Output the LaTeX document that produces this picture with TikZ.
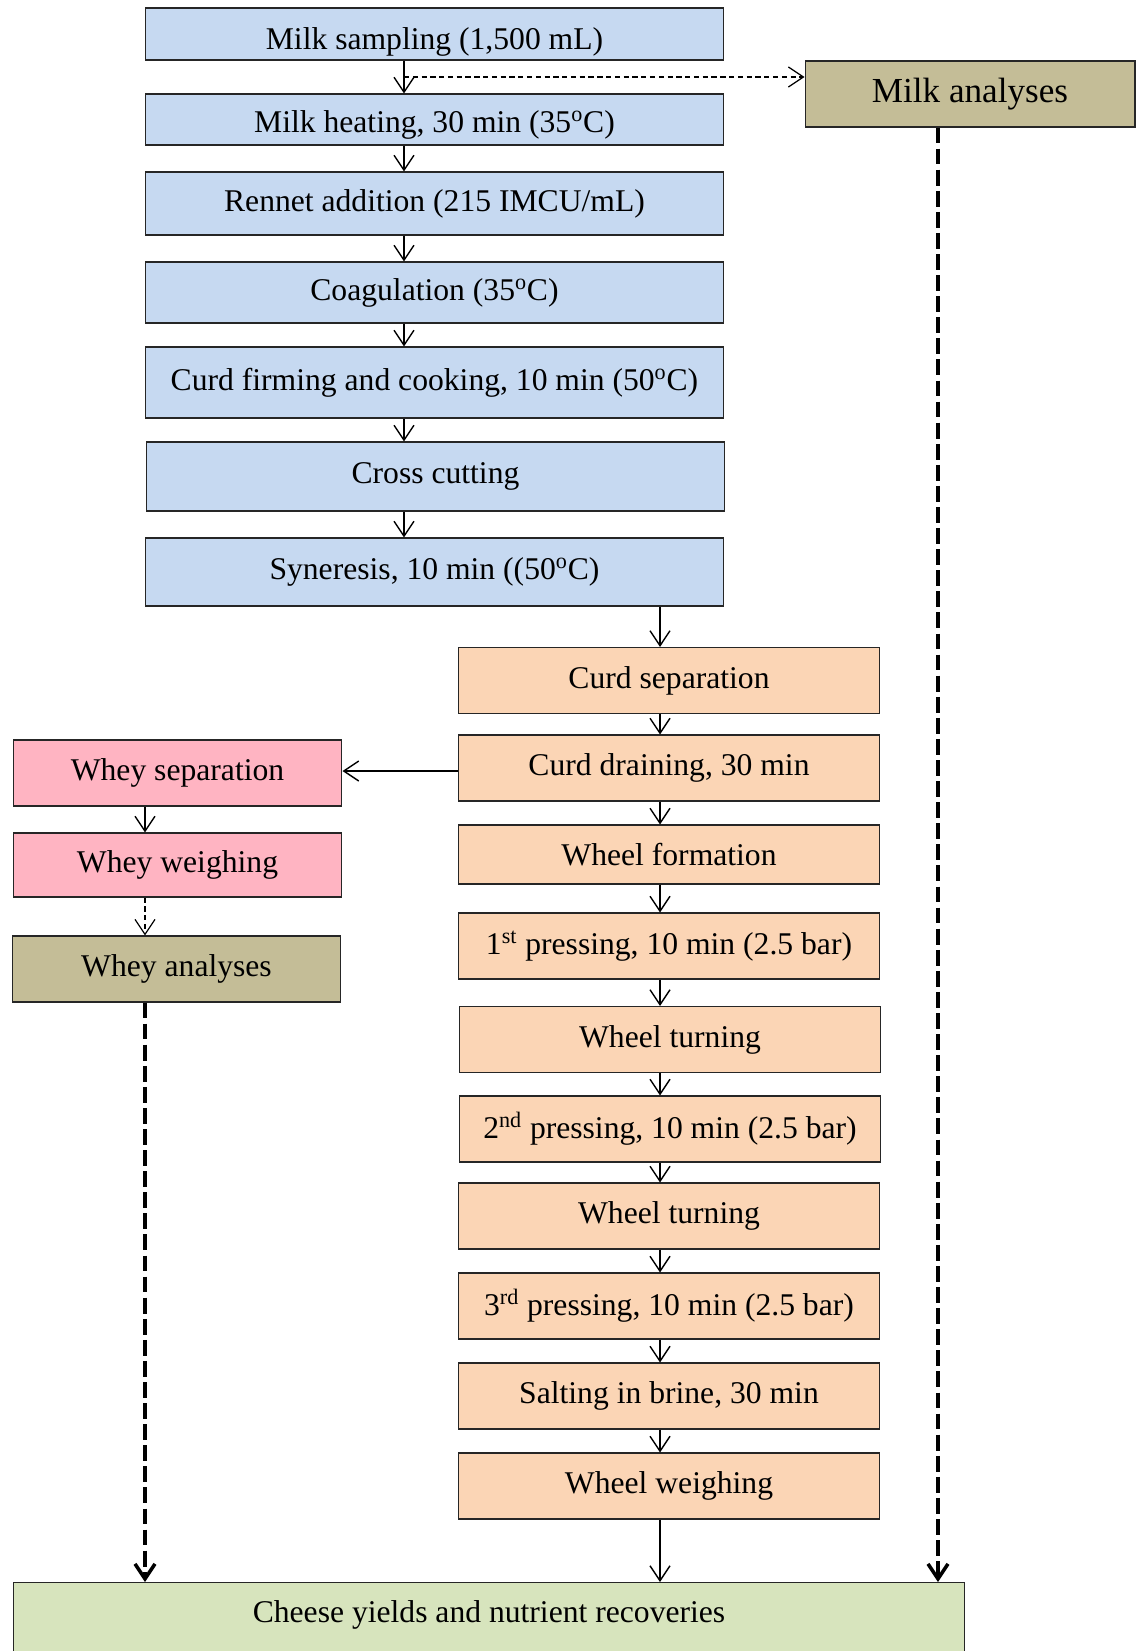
\documentclass[tikz,border=0pt]{standalone}
\usepackage{fontspec}
\setmainfont{Liberation Serif}
\usetikzlibrary{arrows.meta}

\definecolor{milkblue}{RGB}{198,217,241}
\definecolor{curdorange}{RGB}{251,213,181}
\definecolor{wheypink}{RGB}{255,180,194}
\definecolor{analysistan}{RGB}{196,189,151}
\definecolor{yieldgreen}{RGB}{215,228,189}

\begin{document}
\begin{tikzpicture}[y=-0.02cm, x=0.02cm, font=\fontsize{18}{21}\selectfont,
  box/.style={draw=black!85, line width=0.6pt, inner sep=2pt},
  bluebox/.style={box, fill=milkblue, minimum width=11.58cm},
  orangebox/.style={box, fill=curdorange, minimum width=8.44cm, minimum height=1.32cm},
  pinkbox/.style={box, fill=wheypink, minimum width=6.58cm, minimum height=1.32cm},
  tanbox/.style={box, fill=analysistan, minimum height=1.32cm},
  arr/.style={-{Straight Barb[length=0.3cm,width=0.4cm]}, line width=0.8pt},
  dasharr/.style={arr, dash pattern=on 3pt off 2pt, line width=0.7pt},
  thickdash/.style={arr, dash pattern=on 9pt off 3pt, line width=2pt}]

\useasboundingbox (0,0) rectangle (1142,1651);

% milk line
\node[bluebox, minimum height=1.04cm] (sampling) at (434.5,34)    {\raisebox{-0.15cm}[\height][\depth]{Milk sampling (1,500 mL)}};
\node[bluebox, minimum height=1.02cm] (heating)  at (434.5,119.5) {\raisebox{-0.1cm}[\height][\depth]{Milk heating, 30 min (35\textsuperscript{o}C)}};
\node[bluebox, minimum height=1.26cm] (rennet)   at (434.5,203.5) {Rennet addition (215 IMCU/mL)};
\node[bluebox, minimum height=1.22cm] (coag)     at (434.5,292.5) {Coagulation (35\textsuperscript{o}C)};
\node[bluebox, minimum height=1.42cm] (firming)  at (434.5,382.5) {Curd firming and cooking, 10 min (50\textsuperscript{o}C)};
\node[bluebox, minimum height=1.38cm] (cutting)  at (435.5,476.5) {Cross cutting};
\node[bluebox, minimum height=1.36cm] (syneresis) at (434.5,572)  {Syneresis, 10 min ((50\textsuperscript{o}C)};

\node[tanbox, minimum width=6.6cm, font=\fontsize{20}{24}\selectfont] (milkan) at (970,94) {Milk analyses};

% curd line
\node[orangebox] (curdsep)   at (669,680.5) {Curd separation};
\node[orangebox] (draining)  at (669,768)   {Curd draining, 30 min};
\node[orangebox, minimum height=1.18cm] (formation) at (669,854.5) {Wheel formation};
\node[orangebox] (press1)    at (669,946)   {1\textsuperscript{st} pressing, 10 min (2.5 bar)};
\node[orangebox] (turn1)     at (670,1039.5) {Wheel turning};
\node[orangebox] (press2)    at (670,1129)  {2\textsuperscript{nd} pressing, 10 min (2.5 bar)};
\node[orangebox] (turn2)     at (669,1216)  {Wheel turning};
\node[orangebox] (press3)    at (669,1306)  {3\textsuperscript{rd} pressing, 10 min (2.5 bar)};
\node[orangebox] (brine)     at (669,1396)  {Salting in brine, 30 min};
\node[orangebox] (weighing)  at (669,1486)  {Wheel weighing};

% whey line
\node[pinkbox] (wheysep)   at (177.5,773) {Whey separation};
\node[pinkbox, minimum height=1.28cm] (wheyweigh) at (177.5,865) {Whey weighing};
\node[tanbox, minimum width=6.58cm] (wheyan) at (176.5,969) {Whey analyses};

\node[box, fill=yieldgreen, minimum width=19.04cm, anchor=north, text height=0.72cm, text depth=2cm] (yields) at (489,1582)
  {Cheese yields and nutrient recoveries};

% arrow columns
\coordinate (milkx) at (404,0);
\coordinate (curdx) at (660,0);
\coordinate (wheyx) at (145,0);
\coordinate (analx) at (938,0);
\coordinate (fork)  at (404,77);

\draw[arr] (sampling.south -| milkx) -- (heating.north -| milkx);
\draw[dasharr] (fork) -- (milkan.west |- fork);
\draw[arr] (heating.south -| milkx) -- (rennet.north -| milkx);
\draw[arr] (rennet.south -| milkx) -- (coag.north -| milkx);
\draw[arr] (coag.south -| milkx) -- (firming.north -| milkx);
\draw[arr] (firming.south -| milkx) -- (cutting.north -| milkx);
\draw[arr] (cutting.south -| milkx) -- (syneresis.north -| milkx);
\draw[arr] (syneresis.south -| curdx) -- (curdsep.north -| curdx);

\draw[arr] (curdsep.south -| curdx) -- (draining.north -| curdx);
\draw[arr] (draining.south -| curdx) -- (formation.north -| curdx);
\draw[arr] (formation.south -| curdx) -- (press1.north -| curdx);
\draw[arr] (press1.south -| curdx) -- (turn1.north -| curdx);
\draw[arr] (turn1.south -| curdx) -- (press2.north -| curdx);
\draw[arr] (press2.south -| curdx) -- (turn2.north -| curdx);
\draw[arr] (turn2.south -| curdx) -- (press3.north -| curdx);
\draw[arr] (press3.south -| curdx) -- (brine.north -| curdx);
\draw[arr] (brine.south -| curdx) -- (weighing.north -| curdx);
\draw[arr] (weighing.south -| curdx) -- (yields.north -| curdx);

\draw[arr] (draining.west |- 0,771) -- (wheysep.east |- 0,771);
\draw[arr] (wheysep.south -| wheyx) -- (wheyweigh.north -| wheyx);
\draw[dasharr] (wheyweigh.south -| wheyx) -- (wheyan.north -| wheyx);

\draw[thickdash] (wheyan.south -| wheyx) -- (yields.north -| wheyx);
\draw[thickdash] (milkan.south -| analx) -- (yields.north -| analx);
\end{tikzpicture}
\end{document}
